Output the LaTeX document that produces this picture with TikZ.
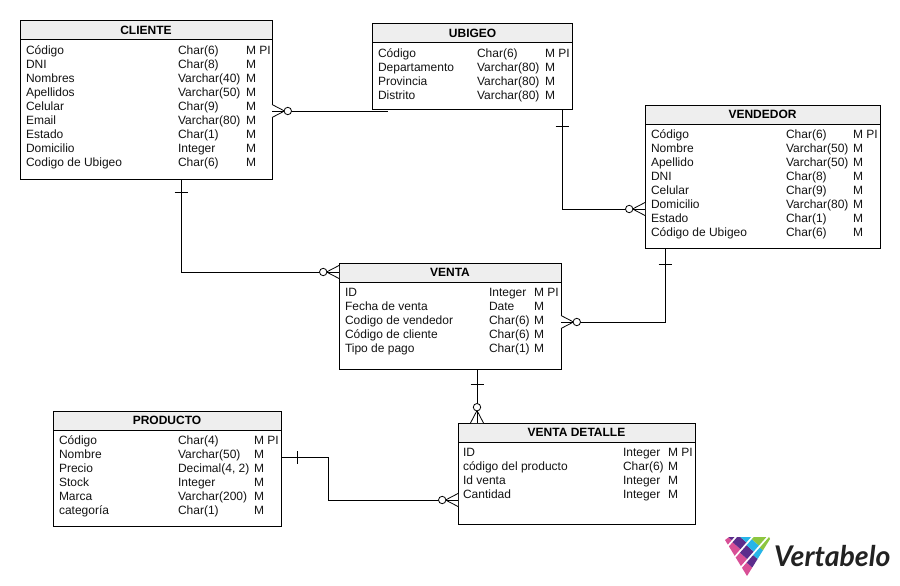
\documentclass[tikz,border=0pt]{standalone}
\usepackage{fontspec}
\setmainfont{Liberation Sans}
\newfontfamily\logofont{Lato}
\definecolor{hdr}{HTML}{EEEEEE}
\definecolor{lpink}{HTML}{D84F96}
\definecolor{lpurple}{HTML}{5C2D8C}
\definecolor{lcyan}{HTML}{27B5E8}
\definecolor{lgreen}{HTML}{8DC63F}
\definecolor{logotext}{HTML}{222222}
\tikzset{
  tablebox/.style={draw=black,line width=1pt,anchor=north west,fill=white,inner sep=0pt,outer sep=0pt},
  headbox/.style={draw=black,line width=1pt,anchor=north west,fill=hdr,inner sep=0pt,outer sep=0pt,
    font=\fontsize{12}{14}\selectfont\bfseries},
  celltext/.style={anchor=base west,inner sep=0pt,outer sep=0pt,font=\fontsize{12}{14}\selectfont,text=black!92},
  link/.style={draw=black,line width=1pt},
  crowline/.style={draw=black,line width=0.8pt,fill=white}
}
% name, left, top, right, bottom, title
\newcommand{\erbox}[6]{%
  \node[tablebox,minimum width=#4-#2,minimum height=#5-#3] (#1) at (#2,#3) {};
  \node[headbox,minimum width=#4-#2,minimum height=19] (#1h) at (#2,#3) {#6};
}
% x1, x2, x3, first baseline, rows
\newcommand{\errows}[5]{%
  \foreach \rowname/\rowtype/\rowflag [count=\rowi from 0] in {#5} {
    \node[celltext] at (#1,#4+0.4+14*\rowi) {\rowname};
    \node[celltext] at (#2,#4+0.4+14*\rowi) {\rowtype};
    \node[celltext] at (#3,#4+0.4+14*\rowi) {\rowflag};
  }%
}
\newcommand{\crowfoot}[2]{%
  \begin{scope}[shift={(#1)},rotate=#2]
    \draw[crowline] (0pt,-6.5pt) -- (12.5pt,0pt) -- (0pt,6.5pt);
    \draw[crowline] (0pt,0pt) -- (12.5pt,0pt);
    \draw[crowline] (15.8pt,0pt) circle[radius=3.7pt];
  \end{scope}}
\newcommand{\onebar}[2]{%
  \begin{scope}[shift={(#1)},rotate=#2]
    \draw[crowline] (0pt,-6.5pt) -- (0pt,6.5pt);
  \end{scope}}
\newcommand{\logocell}[5]{\fill[#5] (#1,#2) -- (#3,#2) -- (#3,#4) -- (#1,#4) -- cycle;}
\begin{document}
\begin{tikzpicture}[x=1pt,y=-1pt]
\useasboundingbox (0,0) rectangle (900,586);
\fill[white] (0,0) rectangle (900,586);

\erbox{cliente}{20}{21}{272}{179}{CLIENTE}
\errows{26}{178}{246}{54}{Código/Char(6)/M PI,DNI/Char(8)/M,Nombres/Varchar(40)/M,Apellidos/Varchar(50)/M,Celular/Char(9)/M,Email/Varchar(80)/M,Estado/Char(1)/M,Domicilio/Integer/M,Codigo de Ubigeo/Char(6)/M}

\erbox{ubigeo}{372.6}{24}{572.6}{109}{UBIGEO}
\errows{378}{477}{545}{57}{Código/Char(6)/M PI,Departamento/Varchar(80)/M,Provincia/Varchar(80)/M,Distrito/Varchar(80)/M}

\erbox{vendedor}{645}{105}{880}{248}{VENDEDOR}
\errows{651}{786}{853}{138}{Código/Char(6)/M PI,Nombre/Varchar(50)/M,Apellido/Varchar(50)/M,DNI/Char(8)/M,Celular/Char(9)/M,Domicilio/Varchar(80)/M,Estado/Char(1)/M,Código de Ubigeo/Char(6)/M}

\erbox{venta}{339}{263}{561}{369}{VENTA}
\errows{345}{489}{534}{296}{ID/Integer/M PI,Fecha de venta/Date/M,Codigo de vendedor/Char(6)/M,Código de cliente/Char(6)/M,Tipo de pago/Char(1)/M}

\erbox{producto}{53}{411}{281}{526}{PRODUCTO}
\errows{59}{178}{254}{444}{Código/Char(4)/M PI,Nombre/Varchar(50)/M,Precio/{Decimal(4, 2)}/M,Stock/Integer/M,Marca/Varchar(200)/M,categoría/Char(1)/M}

\erbox{detalle}{458}{423}{695}{524}{VENTA DETALLE}
\errows{463}{623}{668}{456}{ID/Integer/M PI,código del producto/Char(6)/M,Id venta/Integer/M,Cantidad/Integer/M}

% connectors
\coordinate (ubigeoEnd) at (388,111);
\draw[link] (cliente.east |- ubigeoEnd) -- (ubigeoEnd);
\crowfoot{cliente.east |- ubigeoEnd}{0}

\coordinate (elbowA) at (181,272);
\draw[link] (cliente.south -| elbowA) -- (elbowA) -- (venta.west |- elbowA);
\crowfoot{venta.west |- elbowA}{180}
\coordinate (tickA) at (181,192);
\onebar{tickA}{-90}

\coordinate (elbowB) at (562,209);
\draw[link] (ubigeo.south -| elbowB) -- (elbowB) -- (vendedor.west |- elbowB);
\crowfoot{vendedor.west |- elbowB}{180}
\coordinate (tickB) at (562,126);
\onebar{tickB}{-90}

\coordinate (elbowC) at (665,322);
\draw[link] (vendedor.south -| elbowC) -- (elbowC) -- (venta.east |- elbowC);
\crowfoot{venta.east |- elbowC}{0}
\coordinate (tickC) at (665,264);
\onebar{tickC}{-90}

\coordinate (axisD) at (477,400);
\draw[link] (venta.south -| axisD) -- (detalle.north -| axisD);
\crowfoot{detalle.north -| axisD}{90}
\coordinate (tickD) at (477,384);
\onebar{tickD}{-90}

\coordinate (elbowE) at (328,457);
\coordinate (elbowF) at (328,500);
\draw[link] (producto.east |- elbowE) -- (elbowE) -- (elbowF) -- (detalle.west |- elbowF);
\crowfoot{detalle.west |- elbowF}{180}
\coordinate (tickE) at (297,457);
\onebar{tickE}{0}

% logo
\begin{scope}
  \clip (725,540) -- (729,537) -- (769,537) -- (770,539) -- (747,576) -- cycle;
  \begin{scope}[x={(0.75pt,-0.66pt)},y={(0.66pt,0.75pt)}]
    \logocell{880}{40}{907}{78}{lpink}
    \logocell{880}{78}{907}{120}{lpurple}
    \logocell{909}{40}{919.5}{77}{lpink}
    \logocell{909}{77}{919.5}{86}{lpurple}
    \logocell{909}{86}{919.5}{120}{lcyan}
    \logocell{921.5}{40}{931}{74}{lpink}
    \logocell{921.5}{74}{931}{84}{lpurple}
    \logocell{921.5}{84}{931}{92}{lcyan}
    \logocell{921.5}{92}{931}{120}{lgreen}
    \logocell{933}{40}{960}{71}{lpink}
    \logocell{933}{71}{960}{81}{lpurple}
    \logocell{933}{81}{960}{91}{lcyan}
    \logocell{933}{91}{960}{120}{lgreen}
  \end{scope}
\end{scope}
\node[anchor=base west,inner sep=0pt,font=\logofont\fontsize{28.5}{30}\selectfont\bfseries\itshape,text=logotext] (logotext) at (774,566.5) {Vertabelo};
\end{tikzpicture}
\end{document}
